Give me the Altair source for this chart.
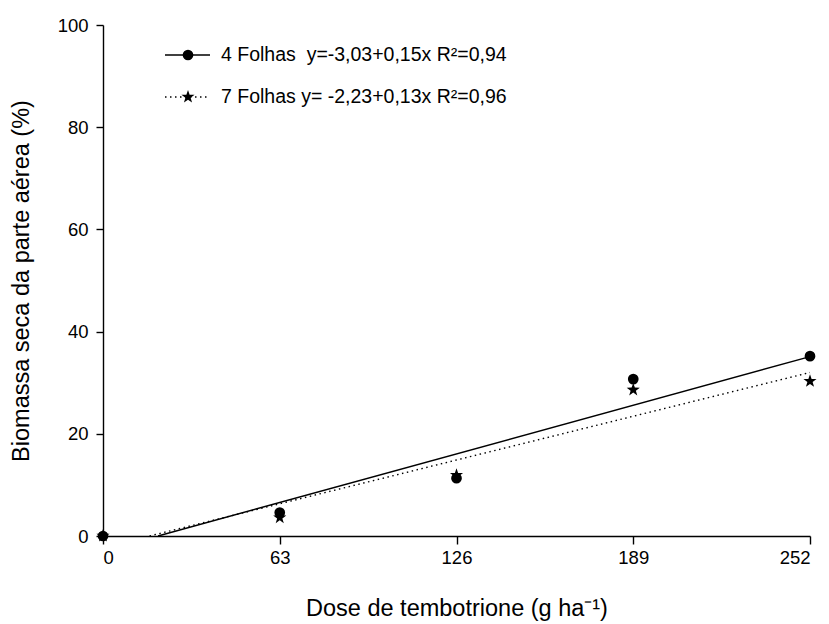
import altair as alt
import pandas as pd

# Data
doses = [0, 63, 126, 189, 252]
folhas4 = [0.0, 4.6, 11.3, 30.7, 35.2]
folhas7 = [0.0, 3.6, 11.9, 28.6, 30.3]

# fitted regression lines (start where y = 0, end at the last dose)
fit4_x = [19.6, 252]
fit4_y = [0.0, 35.1]
fit7_x = [16.6, 252]
fit7_y = [0.0, 32.0]

legend_labels = ["4 Folhas\u00a0\u00a0y=-3,03+0,15x R\u00b2=0,94",
                 "7 Folhas y= -2,23+0,13x R\u00b2=0,96"]

x_ticks = [0, 63, 126, 189, 252]
y_ticks = [0, 20, 40, 60, 80, 100]

FONT = "Liberation Sans"
STAR = ("M0,-1L0.235,-0.324L0.951,-0.309L0.380,0.124L0.588,0.809L0,0.4"
        "L-0.588,0.809L-0.380,0.124L-0.951,-0.309L-0.235,-0.324Z")

pts4 = pd.DataFrame({"dose": doses, "val": folhas4})
pts7 = pd.DataFrame({"dose": doses, "val": folhas7})
l4 = pd.DataFrame({"dose": fit4_x, "val": fit4_y})
l7 = pd.DataFrame({"dose": fit7_x, "val": fit7_y})

xs = alt.Scale(domain=[0, 252], nice=False, zero=False)
ys = alt.Scale(domain=[0, 100], nice=False)

axis_style = dict(grid=False, domainColor="black", domainWidth=1.4,
                  tickColor="black", tickWidth=1.4, labelColor="black",
                  titleColor="black", labelFont=FONT, titleFont=FONT,
                  labelFontSize=18.5, titleFontSize=23.5, titleFontWeight="normal")

xenc = alt.X("dose:Q", scale=xs,
             axis=alt.Axis(values=x_ticks, title="Dose de tembotrione (g ha\u207b\u00b9)",
                           tickSize=8, labelPadding=4, titlePadding=30, **axis_style))
yenc = alt.Y("val:Q", scale=ys,
             axis=alt.Axis(values=y_ticks, title="Biomassa seca da parte a\u00e9rea (%)",
                           tickSize=7, labelPadding=8, titlePadding=24, **axis_style))

line4 = alt.Chart(l4).mark_line(color="black", strokeWidth=1.4).encode(x=xenc, y=yenc)
line7 = alt.Chart(l7).mark_line(color="black", strokeWidth=1.4,
                                strokeDash=[1.5, 3.5]).encode(x=xenc, y=yenc)
circ = alt.Chart(pts4).mark_point(shape="circle", filled=True, color="black",
                                  size=115, opacity=1).encode(x=xenc, y=yenc)
star = alt.Chart(pts7).mark_point(shape=STAR, filled=True, color="black",
                                  size=190, opacity=1).encode(x=xenc, y=yenc)

# manual legend
leg = pd.DataFrame({"label": legend_labels, "row": [0, 1]})
r1 = alt.Chart(leg).transform_filter("datum.row == 0").mark_rule(
    color="black", strokeWidth=1.4).encode(x=alt.value(62), x2=alt.value(107), y=alt.value(30))
r2 = alt.Chart(leg).transform_filter("datum.row == 1").mark_rule(
    color="black", strokeWidth=1.4, strokeDash=[1.5, 3.5]).encode(
    x=alt.value(62), x2=alt.value(107), y=alt.value(72))
m1 = alt.Chart(leg).transform_filter("datum.row == 0").mark_point(
    shape="circle", filled=True, color="black", size=115, opacity=1).encode(
    x=alt.value(85), y=alt.value(30))
m2 = alt.Chart(leg).transform_filter("datum.row == 1").mark_point(
    shape=STAR, filled=True, color="black", size=190, opacity=1).encode(
    x=alt.value(85), y=alt.value(72))
t1 = alt.Chart(leg).transform_filter("datum.row == 0").mark_text(
    align="left", baseline="middle", font=FONT, fontSize=19.5, color="black").encode(
    x=alt.value(118), y=alt.value(30), text="label:N")
t2 = alt.Chart(leg).transform_filter("datum.row == 1").mark_text(
    align="left", baseline="middle", font=FONT, fontSize=19.5, color="black").encode(
    x=alt.value(118), y=alt.value(72), text="label:N")

chart = alt.layer(line4, line7, circ, star, r1, r2, m1, m2, t1, t2).properties(
    width=707, height=511,
    autosize=alt.AutoSizeParams(type="none"),
    padding={"left": 103, "top": 25, "right": 19, "bottom": 88},
    background="white",
).configure_view(stroke=None)

chart.save("out.html", embed_options={"renderer": "svg", "actions": False})
